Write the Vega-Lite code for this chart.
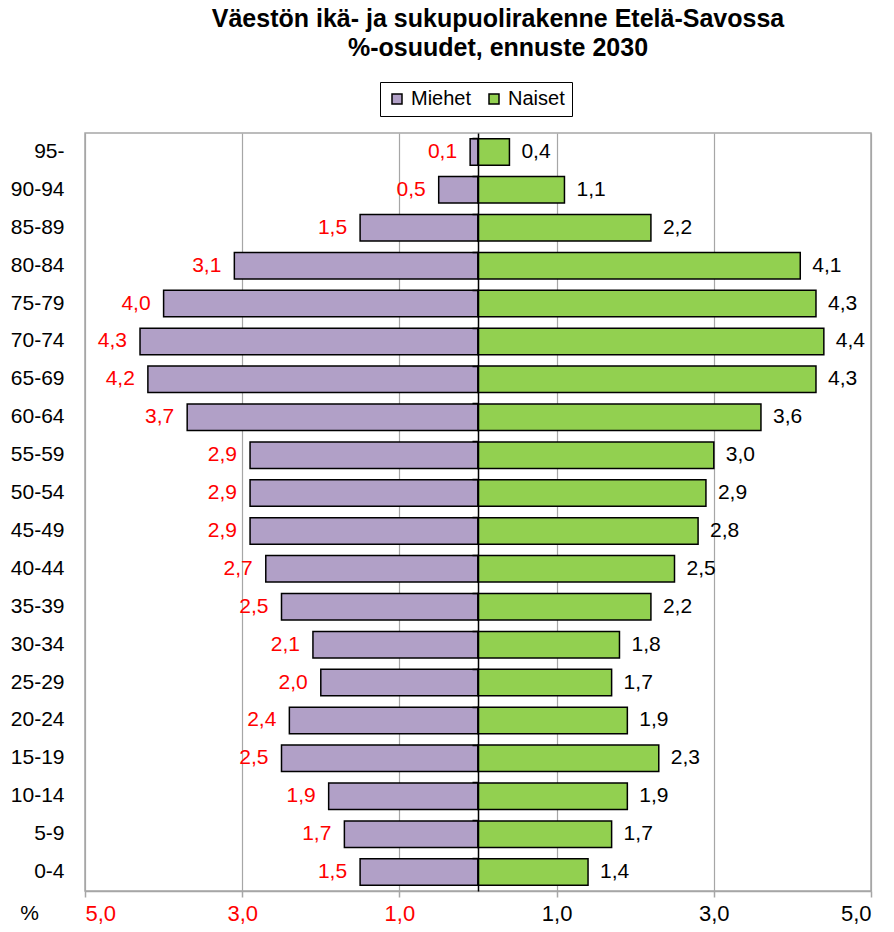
{
  "$schema": "https://vega.github.io/schema/vega-lite/v6.json",
  "width": 786,
  "height": 758,
  "autosize": {"type": "none"},
  "padding": {"left": 85, "top": 133, "right": 23, "bottom": 41},
  "config": {
    "font": "Liberation Sans",
    "view": {"stroke": "#a6a6a6", "strokeWidth": 1.5},
    "locale": {"number": {"decimal": ",", "thousands": " ", "grouping": [3], "currency": ["", " €"]}}
  },
  "title": {
    "text": ["Väestön ikä- ja sukupuolirakenne Etelä-Savossa", "%-osuudet,  ennuste 2030"],
    "fontSize": 25,
    "fontWeight": "bold",
    "font": "Liberation Sans",
    "color": "black",
    "anchor": "middle",
    "dx": 20,
    "lineHeight": 29,
    "offset": 21
  },
  "data": {
    "values": [
      {"ika": "95-", "sukupuoli": "Miehet", "osuus": 0.1},
      {"ika": "95-", "sukupuoli": "Naiset", "osuus": 0.4},
      {"ika": "90-94", "sukupuoli": "Miehet", "osuus": 0.5},
      {"ika": "90-94", "sukupuoli": "Naiset", "osuus": 1.1},
      {"ika": "85-89", "sukupuoli": "Miehet", "osuus": 1.5},
      {"ika": "85-89", "sukupuoli": "Naiset", "osuus": 2.2},
      {"ika": "80-84", "sukupuoli": "Miehet", "osuus": 3.1},
      {"ika": "80-84", "sukupuoli": "Naiset", "osuus": 4.1},
      {"ika": "75-79", "sukupuoli": "Miehet", "osuus": 4.0},
      {"ika": "75-79", "sukupuoli": "Naiset", "osuus": 4.3},
      {"ika": "70-74", "sukupuoli": "Miehet", "osuus": 4.3},
      {"ika": "70-74", "sukupuoli": "Naiset", "osuus": 4.4},
      {"ika": "65-69", "sukupuoli": "Miehet", "osuus": 4.2},
      {"ika": "65-69", "sukupuoli": "Naiset", "osuus": 4.3},
      {"ika": "60-64", "sukupuoli": "Miehet", "osuus": 3.7},
      {"ika": "60-64", "sukupuoli": "Naiset", "osuus": 3.6},
      {"ika": "55-59", "sukupuoli": "Miehet", "osuus": 2.9},
      {"ika": "55-59", "sukupuoli": "Naiset", "osuus": 3.0},
      {"ika": "50-54", "sukupuoli": "Miehet", "osuus": 2.9},
      {"ika": "50-54", "sukupuoli": "Naiset", "osuus": 2.9},
      {"ika": "45-49", "sukupuoli": "Miehet", "osuus": 2.9},
      {"ika": "45-49", "sukupuoli": "Naiset", "osuus": 2.8},
      {"ika": "40-44", "sukupuoli": "Miehet", "osuus": 2.7},
      {"ika": "40-44", "sukupuoli": "Naiset", "osuus": 2.5},
      {"ika": "35-39", "sukupuoli": "Miehet", "osuus": 2.5},
      {"ika": "35-39", "sukupuoli": "Naiset", "osuus": 2.2},
      {"ika": "30-34", "sukupuoli": "Miehet", "osuus": 2.1},
      {"ika": "30-34", "sukupuoli": "Naiset", "osuus": 1.8},
      {"ika": "25-29", "sukupuoli": "Miehet", "osuus": 2.0},
      {"ika": "25-29", "sukupuoli": "Naiset", "osuus": 1.7},
      {"ika": "20-24", "sukupuoli": "Miehet", "osuus": 2.4},
      {"ika": "20-24", "sukupuoli": "Naiset", "osuus": 1.9},
      {"ika": "15-19", "sukupuoli": "Miehet", "osuus": 2.5},
      {"ika": "15-19", "sukupuoli": "Naiset", "osuus": 2.3},
      {"ika": "10-14", "sukupuoli": "Miehet", "osuus": 1.9},
      {"ika": "10-14", "sukupuoli": "Naiset", "osuus": 1.9},
      {"ika": "5-9", "sukupuoli": "Miehet", "osuus": 1.7},
      {"ika": "5-9", "sukupuoli": "Naiset", "osuus": 1.7},
      {"ika": "0-4", "sukupuoli": "Miehet", "osuus": 1.5},
      {"ika": "0-4", "sukupuoli": "Naiset", "osuus": 1.4}
    ]
  },
  "layer": [
    {
      "transform": [{"filter": "datum.sukupuoli == 'Miehet'"}],
      "encoding": {
        "y": {
          "field": "ika", "type": "nominal",
          "sort": ["95-", "90-94", "85-89", "80-84", "75-79", "70-74", "65-69", "60-64", "55-59", "50-54", "45-49", "40-44", "35-39", "30-34", "25-29", "20-24", "15-19", "10-14", "5-9", "0-4"],
          "scale": {"paddingInner": 0.3, "paddingOuter": 0.15},
          "axis": {"title": null, "orient": "left", "domain": false, "ticks": false, "labelPadding": 21, "labelFontSize": 21, "labelColor": "black", "grid": false}
        },
        "x": {"field": "osuus", "type": "quantitative", "scale": {"domain": [-5, 5], "reverse": true, "nice": false, "zero": false}, "axis": null}
      },
      "layer": [
        {
          "mark": {"type": "bar", "stroke": "black", "strokeWidth": 1.5},
          "encoding": {
            "color": {"field": "sukupuoli", "type": "nominal",
              "scale": {"domain": ["Miehet", "Naiset"], "range": ["#b1a0c7", "#92d050"]},
              "legend": {"title": null, "orient": "none", "legendX": 295, "legendY": -51, "direction": "horizontal",
                "symbolType": "square", "symbolSize": 100, "symbolStrokeColor": "#333", "symbolStrokeWidth": 1.5,
                "labelFontSize": 20, "labelColor": "black", "strokeColor": "black", "fillColor": "white", "padding": 7,
                "columnPadding": 12, "labelOffset": 4}
            }
          }
        },
        {
          "mark": {"type": "text", "align": "right", "baseline": "middle", "dx": -13, "fontSize": 21, "color": "#ff0000"},
          "encoding": {"text": {"field": "osuus", "type": "quantitative", "format": ".1f"}}
        }
      ]
    },
    {
      "transform": [{"filter": "datum.sukupuoli == 'Naiset'"}],
      "encoding": {
        "y": {
          "field": "ika", "type": "nominal",
          "sort": ["95-", "90-94", "85-89", "80-84", "75-79", "70-74", "65-69", "60-64", "55-59", "50-54", "45-49", "40-44", "35-39", "30-34", "25-29", "20-24", "15-19", "10-14", "5-9", "0-4"],
          "axis": {"title": null, "orient": "right", "offset": -393, "labels": false, "domain": true, "domainColor": "black", "domainWidth": 1.5, "ticks": true, "tickColor": "black", "tickWidth": 1.5, "tickSize": -6, "bandPosition": 0, "grid": false, "zindex": 2}
        },
        "x": {
          "field": "osuus", "type": "quantitative",
          "scale": {"domain": [-5, 5], "nice": false, "zero": false},
          "axis": {
            "title": "%", "titleX": -56, "titleY": 22, "titleBaseline": "middle", "titleAlign": "center", "titleFontSize": 21, "titleFontWeight": "normal", "titleColor": "black",
            "values": [-5, -3, -1, 1, 3, 5],
            "labelExpr": "replace(format(abs(datum.value), '.1f'), '.', ',')",
            "labelFontSize": 22,
            "labelColor": {"condition": {"test": "datum.value < 0", "value": "#ff0000"}, "value": "black"},
            "labelPadding": 6, "tickSize": 6, "tickColor": "#a6a6a6", "tickWidth": 1.5,
            "domainColor": "#a6a6a6", "domainWidth": 1.5,
            "grid": true, "gridColor": "#a6a6a6", "gridWidth": 1.2
          }
        }
      },
      "layer": [
        {
          "mark": {"type": "bar", "stroke": "black", "strokeWidth": 1.5},
          "encoding": {
            "color": {"field": "sukupuoli", "type": "nominal",
              "scale": {"domain": ["Miehet", "Naiset"], "range": ["#b1a0c7", "#92d050"]}}
          }
        },
        {
          "mark": {"type": "text", "align": "left", "baseline": "middle", "dx": 12, "fontSize": 21, "color": "black"},
          "encoding": {"text": {"field": "osuus", "type": "quantitative", "format": ".1f"}}
        }
      ]
    }
  ],
  "resolve": {"scale": {"x": "independent"}, "axis": {"y": "independent"}}
}
